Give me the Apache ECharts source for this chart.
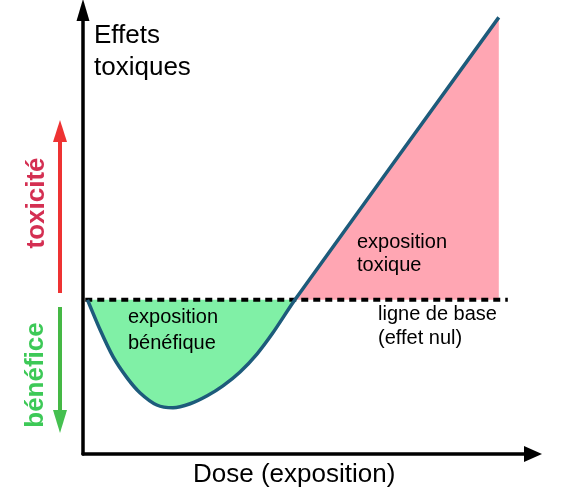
<!DOCTYPE html>
<html>
<head>
<meta charset="utf-8">
<script src="https://cdn.jsdelivr.net/npm/echarts@6/dist/echarts.min.js"></script>
<style>
html,body{margin:0;padding:0;background:#fff;}
#chart{width:565px;height:492px;}
</style>
</head>
<body>
<div id="chart"></div>
<script>
// ---- data (conceptual dose-response / hormesis curve) ----
const doses   = [1, 3.8, 6.7, 9.8, 12.7, 16.4, 20, 23.8, 27.6, 31.1, 34.9, 38.7, 42.2, 47.1, 92.4];
const effects = [0, -9.7, -18.5, -25.3, -30.2, -34.1, -35.0, -33.7, -31.1, -27.9, -23.4, -17.5, -10.7, 0, 91.6];
const baselineDoses = [0.5, 94.4];
const baselineEffect = 0;
const crossingDose = 47.1;

const yTitle = ['Effets', 'toxiques'];
const xTitle = 'Dose (exposition)';
const beneficLabel = ['exposition', 'bénéfique'];
const toxicLabel = ['exposition', 'toxique'];
const baseLabel = ['ligne de base', '(effet nul)'];
const sideLabels = ['toxicité', 'bénéfice'];

const FONT = '"Liberation Sans", Arial, sans-serif';
const curveData = doses.map((d, i) => [d, effects[i]]);
const baseData = baselineDoses.map(d => [d, baselineEffect]);
const split = (crossingDose - doses[0]) / (doses[doses.length - 1] - doses[0]);

const chart = echarts.init(document.getElementById('chart'));
function txt(t, x, y, size, extra) {
  return Object.assign({
    type: 'text', x: x, y: y, z: 100,
    style: { text: t, x: 0, y: 0, font: size + 'px ' + FONT, fill: '#000', align: 'left', verticalAlign: 'middle' }
  }, extra || {});
}
chart.setOption({
  animation: false,
  backgroundColor: '#fff',
  grid: { left: 83, right: 32, top: 10, bottom: 38 },
  xAxis: {
    type: 'value', min: 0, max: 100,
    axisLine: { show: true, onZero: false, lineStyle: { color: '#000', width: 3.5 }, symbol: ['none', 'triangle'], symbolSize: [16, 18] },
    axisTick: { show: false }, axisLabel: { show: false }, splitLine: { show: false }
  },
  yAxis: {
    type: 'value', min: -50, max: 94,
    axisLine: { show: true, onZero: false, lineStyle: { color: '#000', width: 3.5 }, symbol: ['none', 'triangle'], symbolSize: [13, 22] },
    axisTick: { show: false }, axisLabel: { show: false }, splitLine: { show: false }
  },
  series: [
    {
      type: 'line', data: curveData, smooth: 0.25, showSymbol: false, z: 1,
      lineStyle: { width: 0, opacity: 0 },
      areaStyle: {
        origin: 'auto', opacity: 1,
        color: new echarts.graphic.LinearGradient(0, 0, 1, 0, [
          { offset: 0, color: '#80f0a6' }, { offset: split, color: '#80f0a6' },
          { offset: split, color: '#ffa6b3' }, { offset: 1, color: '#ffa6b3' }
        ])
      }
    },
    {
      type: 'line', data: baseData, showSymbol: false, z: 2,
      lineStyle: { color: '#000', width: 4, type: [7, 5] }
    },
    {
      type: 'line', data: curveData, smooth: 0.25, showSymbol: false, z: 3,
      lineStyle: { color: '#1d5b7b', width: 3.5 }
    }
  ],
  graphic: [
    txt(yTitle[0], 94, 36, 26),
    txt(yTitle[1], 94, 68, 26),
    txt(xTitle, 193, 475, 26),
    txt(beneficLabel[0], 128, 317, 20),
    txt(beneficLabel[1], 128, 343, 20),
    txt(toxicLabel[0], 357, 242, 20),
    txt(toxicLabel[1], 357, 265, 20),
    txt(baseLabel[0], 378, 314, 20),
    txt(baseLabel[1], 378, 338, 20),
    { type: 'text', x: 37, y: 203, rotation: Math.PI / 2, z: 100,
      style: { text: sideLabels[0], x: 0, y: 0, font: 'bold 26px ' + FONT, fill: '#d42f52', align: 'center', verticalAlign: 'middle' } },
    { type: 'text', x: 36, y: 375, rotation: Math.PI / 2, z: 100,
      style: { text: sideLabels[1], x: 0, y: 0, font: 'bold 26px ' + FONT, fill: '#3dc957', align: 'center', verticalAlign: 'middle' } },
    { type: 'line', shape: { x1: 60, y1: 293, x2: 60, y2: 138 }, style: { stroke: '#ee3333', lineWidth: 4 } },
    { type: 'polygon', shape: { points: [[60, 120], [53, 142], [67, 142]] }, style: { fill: '#ee3333' } },
    { type: 'line', shape: { x1: 60, y1: 307, x2: 60, y2: 414 }, style: { stroke: '#45b845', lineWidth: 4 } },
    { type: 'polygon', shape: { points: [[60, 433], [53, 410], [67, 410]] }, style: { fill: '#45c050' } }
  ]
});
</script>
</body>
</html>
